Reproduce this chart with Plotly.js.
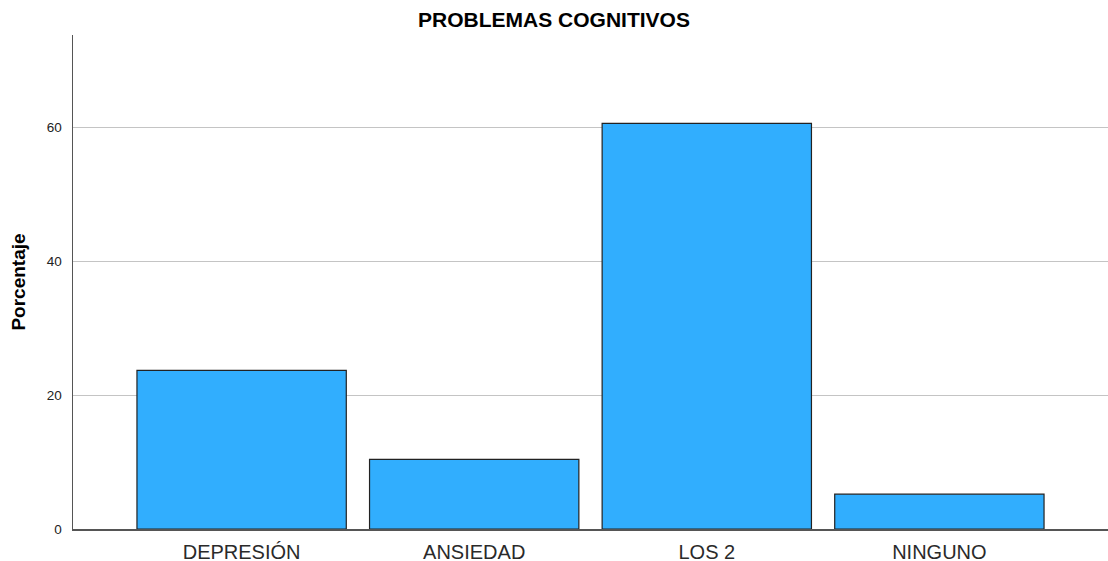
<!DOCTYPE html>
<html>
<head>
<meta charset="utf-8">
<script src="https://cdn.plot.ly/plotly-3.0.1.min.js"></script>
<style>html,body{margin:0;padding:0;background:#fff;}#chart{width:1108px;height:561px;}</style>
</head>
<body>
<div id="chart"></div>
<script>
const categories = ["DEPRESIÓN", "ANSIEDAD", "LOS 2", "NINGUNO"];
const percentages = [23.7, 10.4, 60.6, 5.2];
const yTicks = [0, 20, 40, 60];

const trace = {
  type: "bar",
  x: categories,
  y: percentages,
  width: 0.9,
  marker: { color: "#31aefe", line: { color: "#222222", width: 1.2 } },
  hoverinfo: "x+y"
};

const layout = {
  width: 1108,
  height: 561,
  margin: { l: 73, r: 0, t: 35, b: 32, pad: 0 },
  paper_bgcolor: "#ffffff",
  plot_bgcolor: "#ffffff",
  font: { family: "Liberation Sans, Arial, sans-serif", color: "#222222" },
  title: {
    text: "<b>PROBLEMAS COGNITIVOS</b>",
    x: 0.5, xanchor: "center", xref: "container",
    y: 0.965, yref: "container", yanchor: "middle",
    font: { size: 21, color: "#000000" }
  },
  showlegend: false,
  xaxis: {
    type: "category",
    range: [-0.725, 3.725],
    showline: true, linecolor: "#555555", linewidth: 1.5,
    showgrid: false, zeroline: false,
    ticks: "",
    ticklabelstandoff: 4,
    tickfont: { size: 20, color: "#2a2a2a" }
  },
  yaxis: {
    range: [0, 73.8],
    tickvals: yTicks,
    ticktext: yTicks.map(String),
    showline: true, linecolor: "#555555", linewidth: 1.5,
    showgrid: true, gridcolor: "#c4c4c4", gridwidth: 1,
    zeroline: false,
    ticks: "",
    ticklabelstandoff: 7,
    tickfont: { size: 13.5, color: "#222222" },
    title: { text: "<b>Porcentaje</b>", standoff: 16, font: { size: 19, color: "#000000" } }
  }
};

Plotly.newPlot("chart", [trace], layout, { displayModeBar: false, staticPlot: true });
</script>
</body>
</html>
